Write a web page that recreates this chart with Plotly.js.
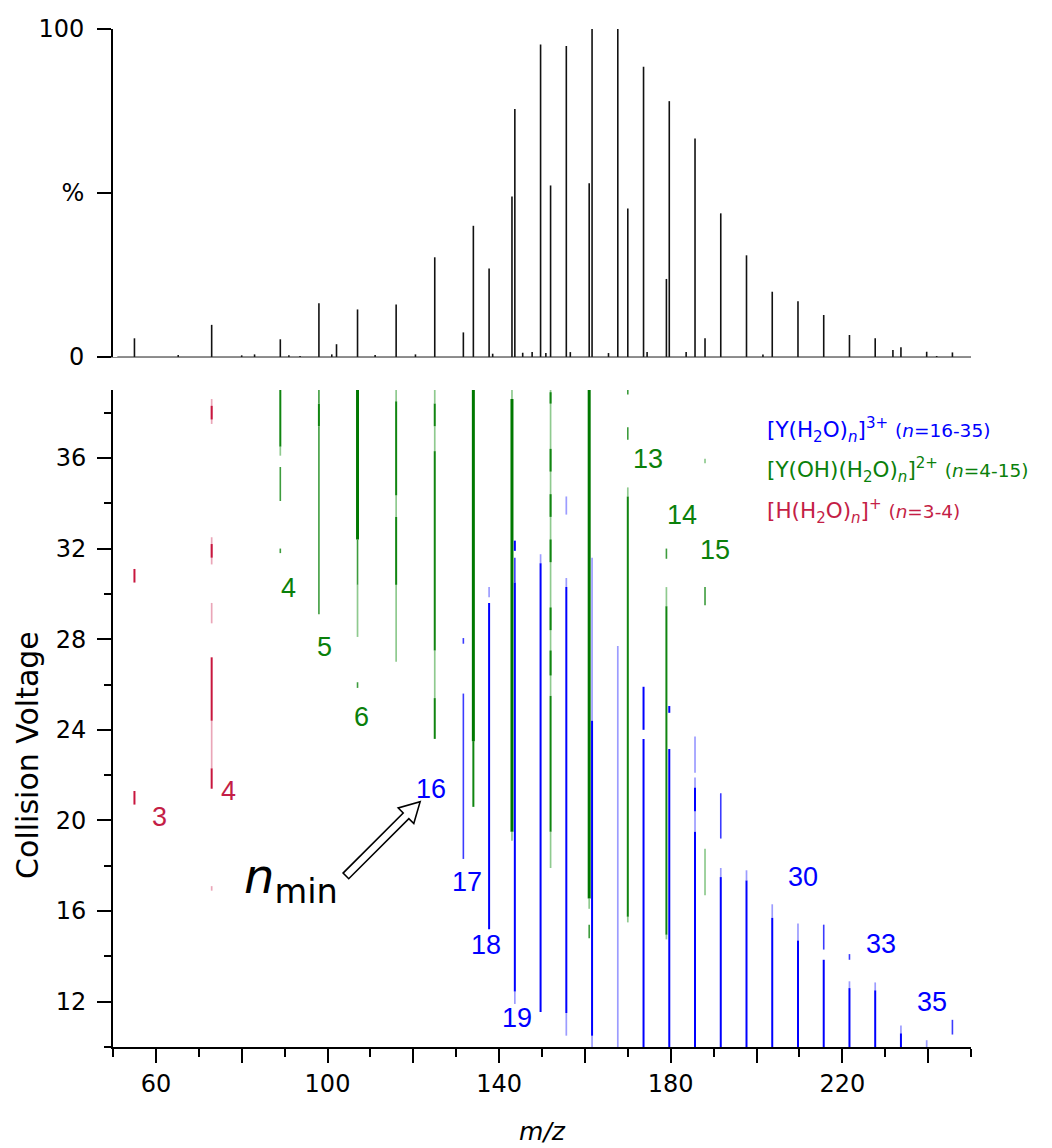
<!DOCTYPE html>
<html>
<head>
<meta charset="utf-8">
<script src="https://cdn.plot.ly/plotly-3.0.1.min.js"></script>
<style>
  html, body { margin: 0; padding: 0; background: #ffffff; }
  #chart { width: 1052px; height: 1148px; }
</style>
</head>
<body>
<div id="chart"></div>
<script>
// ---------- Top panel: mass spectrum (m/z, relative intensity %) ----------
const peakMz  = [55.0, 65.2, 73.0, 80.0, 83.0, 89.0, 91.0, 93.6, 98.0, 101.0, 102.1, 107.0, 111.1, 116.0, 120.5,
                 125.0, 131.67, 134.0, 137.67, 138.5, 143.0, 143.67, 145.5, 147.7, 149.67, 150.9, 152.0, 155.67, 156.6,
                 161.0, 161.67, 165.5, 167.67, 170.0, 173.67, 174.5, 179.0, 179.67, 183.6, 185.67, 188.0, 191.67,
                 197.67, 201.5, 203.67, 209.67, 215.67, 221.67, 227.67, 231.8, 233.67, 239.67, 242.0, 245.67];
const peakPct = [5.7, 0.6, 9.8, 0.5, 0.8, 5.4, 0.5, 0.3, 16.4, 0.8, 3.9, 14.5, 0.6, 16.0, 0.8,
                 30.4, 7.5, 40.0, 27.0, 1.0, 48.9, 75.6, 1.3, 1.5, 95.3, 1.2, 52.3, 94.8, 1.5,
                 53.0, 100.0, 1.2, 100.0, 45.3, 88.5, 1.5, 23.8, 78.0, 1.5, 66.6, 5.7, 43.8,
                 31.0, 0.8, 19.9, 17.0, 12.8, 6.7, 5.7, 2.1, 3.0, 1.6, 0.3, 1.4];

// ---------- Bottom panel: ion series (cluster size n -> m/z) ----------
const blueN  = [17, 18, 19, 20, 21, 22, 23, 24, 25, 26, 27, 28, 29, 30, 31, 32, 33, 34, 35, 36];
const blueMz = [131.67, 137.67, 143.67, 149.67, 155.67, 161.67, 167.67, 173.67, 179.67, 185.67,
                191.67, 197.67, 203.67, 209.67, 215.67, 221.67, 227.67, 233.67, 239.67, 245.67];
const greenN  = [4, 5, 6, 7, 8, 9, 10, 11, 12, 13, 14, 15];
const greenMz = [89, 98, 107, 116, 125, 134, 143, 152, 161, 170, 179, 188];
const redN  = [3, 4];
const redMz = [55, 73];

// Observed voltage ranges per ion (n, low V, high V, tone: 0 light, 1 medium, 2 dark, 3 strong)
const blueSegN  = [17, 17, 18, 18, 19, 19, 19, 19, 20, 20, 21, 21, 21, 21, 22, 22, 22, 23, 24, 24, 25, 25,
                   26, 26, 26, 26, 26, 27, 27, 27, 28, 28, 29, 29, 30, 30, 31, 31, 32, 32, 32, 33, 33, 34, 34, 35, 36];
const blueSegLo = [27.8, 18.3, 29.85, 15.2, 31.9, 30.5, 12.45, 11.9, 31.35, 11.55, 33.5, 30.3, 11.5, 10.5, 24.4, 10.5, 10.0, 10.0, 24.0, 10.0, 24.75, 10.0,
                   22.1, 21.45, 20.4, 19.5, 10.0, 19.2, 17.5, 10.0, 17.35, 10.0, 15.7, 10.0, 14.7, 10.0, 14.3, 10.0, 13.85, 12.6, 10.0, 12.5, 10.0, 10.6, 10.0, 10.0, 10.55];
const blueSegHi = [28.05, 25.6, 30.3, 29.6, 32.35, 31.6, 30.5, 12.45, 31.75, 31.35, 34.3, 30.7, 30.3, 11.5, 31.6, 24.4, 10.5, 27.7, 25.9, 23.6, 25.05, 23.15,
                   23.7, 21.9, 21.45, 20.4, 19.5, 21.2, 17.9, 17.5, 17.8, 17.35, 16.3, 15.7, 15.45, 14.7, 15.4, 13.85, 14.1, 12.9, 12.6, 12.85, 12.5, 10.95, 10.6, 10.3, 11.2];
const blueSegTone = [1, 1, 0, 2, 2, 1, 2, 0, 0, 2, 0, 0, 2, 0, 0, 2, 0, 0, 2, 2, 2, 2,
                     0, 0, 2, 0, 2, 1, 0, 2, 0, 2, 0, 2, 0, 2, 1, 2, 1, 0, 2, 0, 2, 0, 2, 0, 1];

const greenSegN  = [4, 4, 4, 4, 5, 5, 5, 6, 6, 6, 6, 7, 7, 7, 7, 7, 8, 8, 8, 8, 8, 8, 9, 9, 10, 10, 10,
                    11, 11, 11, 11, 11, 11, 11, 11, 11, 12, 12, 12, 13, 13, 13, 13, 13, 14, 14, 14, 14, 15, 15, 15];
const greenSegLo = [36.5, 36.1, 34.1, 31.8, 38.4, 37.4, 29.1, 32.4, 30.4, 28.1, 25.85, 38.5, 34.35, 33.4, 30.4, 27.0,
                    38.4, 37.4, 36.3, 27.5, 25.4, 23.6, 23.5, 20.6, 38.6, 19.5, 19.1,
                    25.5, 38.4, 35.4, 33.4, 31.4, 28.4, 26.4, 19.5, 17.9, 16.55, 16.1, 14.8,
                    38.8, 36.8, 34.3, 15.75, 15.5, 31.55, 29.45, 14.95, 14.75, 35.77, 29.5, 16.7];
const greenSegHi = [39.0, 36.5, 35.6, 32.0, 39.0, 38.4, 37.4, 39.0, 32.4, 30.4, 26.1, 39.0, 38.5, 34.35, 33.4, 30.4,
                    39.0, 38.4, 37.4, 36.3, 27.5, 25.4, 39.0, 23.5, 39.0, 38.6, 19.5,
                    39.0, 38.9, 36.4, 34.4, 32.4, 29.4, 27.5, 25.5, 19.5, 39.0, 16.55, 15.4,
                    39.0, 37.35, 34.7, 34.3, 15.75, 32.0, 30.3, 29.45, 14.95, 35.96, 30.3, 18.75];
const greenSegTone = [2, 0, 1, 1, 1, 2, 1, 3, 1, 0, 1, 0, 2, 0, 2, 0,
                      0, 2, 0, 2, 0, 2, 3, 2, 0, 3, 0,
                      0, 2, 2, 2, 2, 2, 2, 2, 0, 3, 0, 1,
                      1, 1, 0, 2, 0, 1, 0, 2, 0, 0, 1, 0];

const redSegN  = [3, 3, 4, 4, 4, 4, 4, 4, 4, 4, 4];
const redSegLo = [30.5, 20.7, 37.5, 37.7, 31.3, 31.6, 28.7, 24.4, 22.3, 21.4, 16.9];
const redSegHi = [31.1, 21.3, 38.6, 38.3, 32.5, 32.2, 29.6, 27.2, 24.4, 22.3, 17.1];
const redSegTone = [2, 2, 0, 2, 0, 2, 0, 2, 0, 2, 0];

// Labels on the map (text, m/z, voltage)
const blueLabels = ['16', '17', '18', '19', '30', '33', '35'];
const blueLabelMz = [124.2, 132.4, 137.0, 144.25, 210.9, 229.1, 240.8];
const blueLabelV  = [21.4, 17.3, 14.5, 11.3, 17.5, 14.55, 12.0];
const greenLabels = ['4', '5', '6', '13', '14', '15'];
const greenLabelMz = [90.9, 99.3, 107.9, 174.8, 182.7, 190.4];
const greenLabelV  = [30.25, 27.65, 24.55, 35.95, 33.5, 31.95];
const redLabels = ['3', '4'];
const redLabelMz = [60.8, 76.9];
const redLabelV  = [20.15, 21.3];

// ---------- styles ----------
const BLUE = ['#9c9cff', '#3b3bff', '#0000ff', '#0000e0'];
const GREEN = ['#8fca8f', '#3d9c3d', '#108510', '#007800'];
const RED = ['#eaa6b8', '#d45a7a', '#c8163e', '#b80030'];
const WIDTH = [1.7, 1.6, 2.0, 3.0];
const BLUE_TXT = '#0000ff', GREEN_TXT = '#0a800a', RED_TXT = '#c41e46';

const traces = [];

// spectrum sticks
const sx = [], sy = [];
peakMz.forEach((m, i) => { sx.push(m, m, null); sy.push(0, peakPct[i], null); });
traces.push({ type: 'scatter', mode: 'lines', x: sx, y: sy, xaxis: 'x2', yaxis: 'y2',
  line: { color: '#111111', width: 1.6 }, hoverinfo: 'skip', showlegend: false });
// baseline of the spectrum
traces.push({ type: 'scatter', mode: 'lines', x: [51, 250], y: [0, 0], xaxis: 'x2', yaxis: 'y2',
  line: { color: '#222', width: 1.2 }, hoverinfo: 'skip', showlegend: false });

function addSeries(nList, mzList, segN, segLo, segHi, segTone, palette) {
  for (let tone = 0; tone < 4; tone++) {
    const x = [], y = [];
    segN.forEach((n, i) => {
      if (segTone[i] !== tone) return;
      const m = mzList[nList.indexOf(n)];
      x.push(m, m, null); y.push(segLo[i], segHi[i], null);
    });
    if (!x.length) continue;
    traces.push({ type: 'scatter', mode: 'lines', x, y, xaxis: 'x', yaxis: 'y',
      line: { color: palette[tone], width: WIDTH[tone] }, hoverinfo: 'skip', showlegend: false });
  }
}
addSeries(greenN, greenMz, greenSegN, greenSegLo, greenSegHi, greenSegTone, GREEN);
addSeries(redN, redMz, redSegN, redSegLo, redSegHi, redSegTone, RED);
addSeries(blueN, blueMz, blueSegN, blueSegLo, blueSegHi, blueSegTone, BLUE);

// ---------- annotations ----------
const annotations = [];
const numFont = (c) => ({ family: 'Liberation Sans, Arial, sans-serif', size: 27, color: c });
function addLabels(txt, mz, v, color) {
  txt.forEach((t, i) => annotations.push({ text: t, x: mz[i], y: v[i], xref: 'x', yref: 'y',
    showarrow: false, xanchor: 'center', yanchor: 'middle', font: numFont(color) }));
}
addLabels(blueLabels, blueLabelMz, blueLabelV, BLUE_TXT);
addLabels(greenLabels, greenLabelMz, greenLabelV, GREEN_TXT);
addLabels(redLabels, redLabelMz, redLabelV, RED_TXT);

// legend text
const legFont = (c) => ({ family: 'DejaVu Sans, sans-serif', size: 21.5, color: c });
const legendX = 202.0;
const small = (s) => '<span style="font-size:18.5px">' + s + '</span>';
annotations.push({ text: '[Y(H<sub>2</sub>O)<sub><i>n</i></sub>]<sup>3+</sup> ' + small('(<i>n</i>=16-35)'),
  x: legendX, y: 37.25, xref: 'x', yref: 'y', xanchor: 'left', yanchor: 'middle', showarrow: false, font: legFont(BLUE_TXT) });
annotations.push({ text: '[Y(OH)(H<sub>2</sub>O)<sub><i>n</i></sub>]<sup>2+</sup> ' + small('(<i>n</i>=4-15)'),
  x: legendX, y: 35.45, xref: 'x', yref: 'y', xanchor: 'left', yanchor: 'middle', showarrow: false, font: legFont(GREEN_TXT) });
annotations.push({ text: '[H(H<sub>2</sub>O)<sub><i>n</i></sub>]<sup>+</sup> ' + small('(<i>n</i>=3-4)'),
  x: legendX, y: 33.65, xref: 'x', yref: 'y', xanchor: 'left', yanchor: 'middle', showarrow: false, font: legFont(RED_TXT) });

// n_min label
annotations.push({ text: '<i>n</i><sub>min</sub>', x: 91.6, y: 17.4, xref: 'x', yref: 'y', showarrow: false,
  xanchor: 'center', yanchor: 'middle', font: { family: 'DejaVu Sans, sans-serif', size: 48, color: '#000' } });

// y-axis title (placed like the reference, slightly below the axis centre)
annotations.push({ text: 'Collision Voltage', textangle: -90, x: -0.099, y: 0.287, xref: 'paper', yref: 'paper',
  xanchor: 'center', yanchor: 'middle', showarrow: false,
  font: { family: 'DejaVu Sans, sans-serif', size: 30, color: '#000' } });

// hollow block arrow (pixel geometry anchored at tip)
const arrowTip = { mz: 121.6, v: 20.83 };
const arrowLen = 105, headLen = 20, headHalf = 11, shaftHalf = 4, arrowAngle = 45;
const a = arrowAngle * Math.PI / 180;
const u = [-Math.cos(a), -Math.sin(a)];
const p = [-u[1], u[0]];
const pt = (along, side) => [(u[0] * along + p[0] * side).toFixed(2), (u[1] * along + p[1] * side).toFixed(2)];
const pts = [[0, 0], pt(headLen, headHalf), pt(headLen, shaftHalf), pt(arrowLen, shaftHalf),
             pt(arrowLen, -shaftHalf), pt(headLen, -shaftHalf), pt(headLen, -headHalf)];
const arrowPath = 'M' + pts.map(q => q[0] + ',' + q[1]).join(' L') + ' Z';
const shapes = [{ type: 'path', xref: 'x', yref: 'y', xsizemode: 'pixel', ysizemode: 'pixel',
  xanchor: arrowTip.mz, yanchor: arrowTip.v, path: arrowPath,
  line: { color: '#000', width: 1.6 }, fillcolor: '#ffffff' }];

// ---------- axes ----------
const tickFont = { family: 'DejaVu Sans, sans-serif', size: 24, color: '#000' };

const layout = {
  width: 1052, height: 1148,
  margin: { l: 113, r: 81, t: 29, b: 101 },
  paper_bgcolor: '#ffffff', plot_bgcolor: '#ffffff',
  showlegend: false,
  font: { family: 'DejaVu Sans, sans-serif', color: '#000' },
  xaxis: {
    domain: [0, 1], anchor: 'y', range: [50, 250], showgrid: false, zeroline: false,
    showline: true, linecolor: '#000', linewidth: 2, mirror: false,
    ticks: 'outside', ticklen: 14, tickwidth: 2, tickcolor: '#000',
    tickmode: 'linear', tick0: 60, dtick: 20, ticklabelstep: 2, tickfont: tickFont,
    minor: { tickmode: 'linear', tick0: 0, dtick: 10, ticks: 'outside', ticklen: 8, tickwidth: 2, tickcolor: '#000', showgrid: false },
    title: { text: '<i>m/z</i>', font: { family: 'DejaVu Sans, sans-serif', size: 25, color: '#000' }, standoff: 26 }
  },
  yaxis: {
    domain: [0, 0.6454], anchor: 'x', range: [10, 39], showgrid: false, zeroline: false,
    showline: true, linecolor: '#000', linewidth: 2,
    ticks: 'outside', ticklen: 14, tickwidth: 2, tickcolor: '#000', ticklabelstandoff: 6,
    tickmode: 'linear', tick0: 0, dtick: 4, tickfont: tickFont,
    minor: { tickmode: 'linear', tick0: 0, dtick: 2, ticks: 'outside', ticklen: 7, tickwidth: 2, tickcolor: '#000', showgrid: false }
  },
  xaxis2: {
    domain: [0, 1], anchor: 'y2', matches: 'x', range: [50, 250], showgrid: false, zeroline: false,
    showline: true, linecolor: '#8a8a8a', linewidth: 1.5, ticks: '', showticklabels: false
  },
  yaxis2: {
    domain: [0.6778, 1], anchor: 'x2', range: [0, 100], showgrid: false, zeroline: false,
    showline: true, linecolor: '#000', linewidth: 2,
    ticks: 'outside', ticklen: 14, tickwidth: 2, tickcolor: '#000', ticklabelstandoff: 8,
    tickmode: 'array', tickvals: [0, 50, 100], ticktext: ['0', '%', '100'], tickfont: tickFont
  },
  annotations, shapes
};

Plotly.newPlot('chart', traces, layout, { staticPlot: true, displayModeBar: false });
</script>
</body>
</html>
